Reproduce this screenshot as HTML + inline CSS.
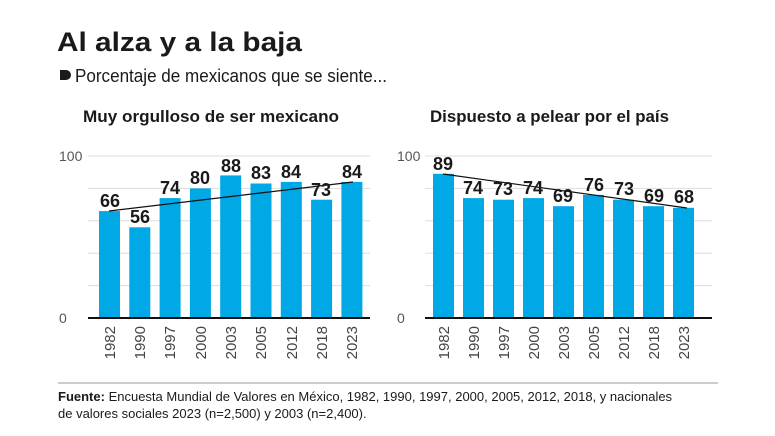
<!DOCTYPE html>
<html><head><meta charset="utf-8"><style>
html,body{margin:0;padding:0;background:#fff;}
svg{display:block;font-family:"Liberation Sans",sans-serif;}
</style></head><body>
<svg width="775" height="436" viewBox="0 0 775 436" xmlns="http://www.w3.org/2000/svg">
<rect width="775" height="436" fill="#fff"/>
<text x="57" y="51" font-size="27" font-weight="bold" fill="#1a1a1a" textLength="245" lengthAdjust="spacingAndGlyphs">Al alza y a la baja</text>
<path d="M60 70 h6 a5 5 0 0 1 0 10 h-6 z" fill="#1a1a1a"/>
<text x="75" y="82" font-size="18" fill="#1a1a1a" textLength="312" lengthAdjust="spacingAndGlyphs">Porcentaje de mexicanos que se siente...</text>
<text x="83" y="122" font-size="17" font-weight="bold" fill="#1a1a1a" textLength="256" lengthAdjust="spacingAndGlyphs">Muy orgulloso de ser mexicano</text>
<text x="430" y="122" font-size="17" font-weight="bold" fill="#1a1a1a" textLength="239" lengthAdjust="spacingAndGlyphs">Dispuesto a pelear por el país</text>
<g stroke="#ddd" stroke-width="1">
<line x1="88" y1="156" x2="370" y2="156"/><line x1="88" y1="188.4" x2="370" y2="188.4"/><line x1="88" y1="220.8" x2="370" y2="220.8"/><line x1="88" y1="253.2" x2="370" y2="253.2"/><line x1="88" y1="285.6" x2="370" y2="285.6"/>
<line x1="425" y1="156" x2="712" y2="156"/><line x1="425" y1="188.4" x2="712" y2="188.4"/><line x1="425" y1="220.8" x2="712" y2="220.8"/><line x1="425" y1="253.2" x2="712" y2="253.2"/><line x1="425" y1="285.6" x2="712" y2="285.6"/>
</g>
<g font-size="14" fill="#555">
<text x="59" y="161">100</text><text x="59" y="323">0</text>
<text x="397" y="161">100</text><text x="397" y="323">0</text>
</g>
<g id="L" fill="#00a8e6">
<rect x="99" y="211.1" width="21" height="106.9"/>
<rect x="129.3" y="227.3" width="21" height="90.7"/>
<rect x="159.6" y="198.1" width="21" height="119.9"/>
<rect x="189.9" y="188.4" width="21" height="129.6"/>
<rect x="220.2" y="175.4" width="21" height="142.6"/>
<rect x="250.5" y="183.5" width="21" height="134.5"/>
<rect x="280.8" y="181.9" width="21" height="136.1"/>
<rect x="311.1" y="199.7" width="21" height="118.3"/>
<rect x="341.4" y="181.9" width="21" height="136.1"/>
</g>
<g fill="#00a8e6">
<rect x="433" y="173.8" width="21" height="144.2"/>
<rect x="463" y="198.1" width="21" height="119.9"/>
<rect x="493" y="199.7" width="21" height="118.3"/>
<rect x="523" y="198.1" width="21" height="119.9"/>
<rect x="553" y="206.2" width="21" height="111.8"/>
<rect x="583" y="194.9" width="21" height="123.1"/>
<rect x="613" y="199.7" width="21" height="118.3"/>
<rect x="643" y="206.2" width="21" height="111.8"/>
<rect x="673" y="207.8" width="21" height="110.2"/>
</g>
<line x1="88" y1="318" x2="370" y2="318" stroke="#111" stroke-width="2"/>
<line x1="425" y1="318" x2="712" y2="318" stroke="#111" stroke-width="2"/>
<line x1="109" y1="211" x2="353" y2="182" stroke="#111" stroke-width="1.2"/>
<line x1="443" y1="174" x2="687" y2="208" stroke="#111" stroke-width="1.2"/>
<g font-size="18" font-weight="bold" fill="#1a1a1a" text-anchor="middle">
<text x="110" y="207">66</text><text x="140" y="223">56</text><text x="170" y="194">74</text><text x="200" y="184">80</text><text x="231" y="172">88</text><text x="261" y="179">83</text><text x="291" y="178">84</text><text x="321" y="196">73</text><text x="352" y="178">84</text>
<text x="443" y="170">89</text><text x="473" y="194">74</text><text x="503" y="195">73</text><text x="533" y="194">74</text><text x="563" y="202">69</text><text x="594" y="191">76</text><text x="624" y="195">73</text><text x="654" y="202">69</text><text x="684" y="203">68</text>
</g>
<g font-size="15" fill="#444" text-anchor="end">
<text transform="translate(115,326) rotate(-90)">1982</text>
<text transform="translate(145,326) rotate(-90)">1990</text>
<text transform="translate(175,326) rotate(-90)">1997</text>
<text transform="translate(206,326) rotate(-90)">2000</text>
<text transform="translate(236,326) rotate(-90)">2003</text>
<text transform="translate(266,326) rotate(-90)">2005</text>
<text transform="translate(297,326) rotate(-90)">2012</text>
<text transform="translate(327,326) rotate(-90)">2018</text>
<text transform="translate(357,326) rotate(-90)">2023</text>
<text transform="translate(449,326) rotate(-90)">1982</text>
<text transform="translate(479,326) rotate(-90)">1990</text>
<text transform="translate(509,326) rotate(-90)">1997</text>
<text transform="translate(539,326) rotate(-90)">2000</text>
<text transform="translate(569,326) rotate(-90)">2003</text>
<text transform="translate(599,326) rotate(-90)">2005</text>
<text transform="translate(629,326) rotate(-90)">2012</text>
<text transform="translate(659,326) rotate(-90)">2018</text>
<text transform="translate(689,326) rotate(-90)">2023</text>
</g>
<line x1="58" y1="383" x2="718" y2="383" stroke="#bbb" stroke-width="1.5"/>
<text x="58" y="401" font-size="13" fill="#1a1a1a"><tspan font-weight="bold">Fuente:</tspan> Encuesta Mundial de Valores en México, 1982, 1990, 1997, 2000, 2005, 2012, 2018, y nacionales</text>
<text x="58" y="418" font-size="13" fill="#1a1a1a">de valores sociales 2023 (n=2,500) y 2003 (n=2,400).</text>
</svg>
</body></html>
